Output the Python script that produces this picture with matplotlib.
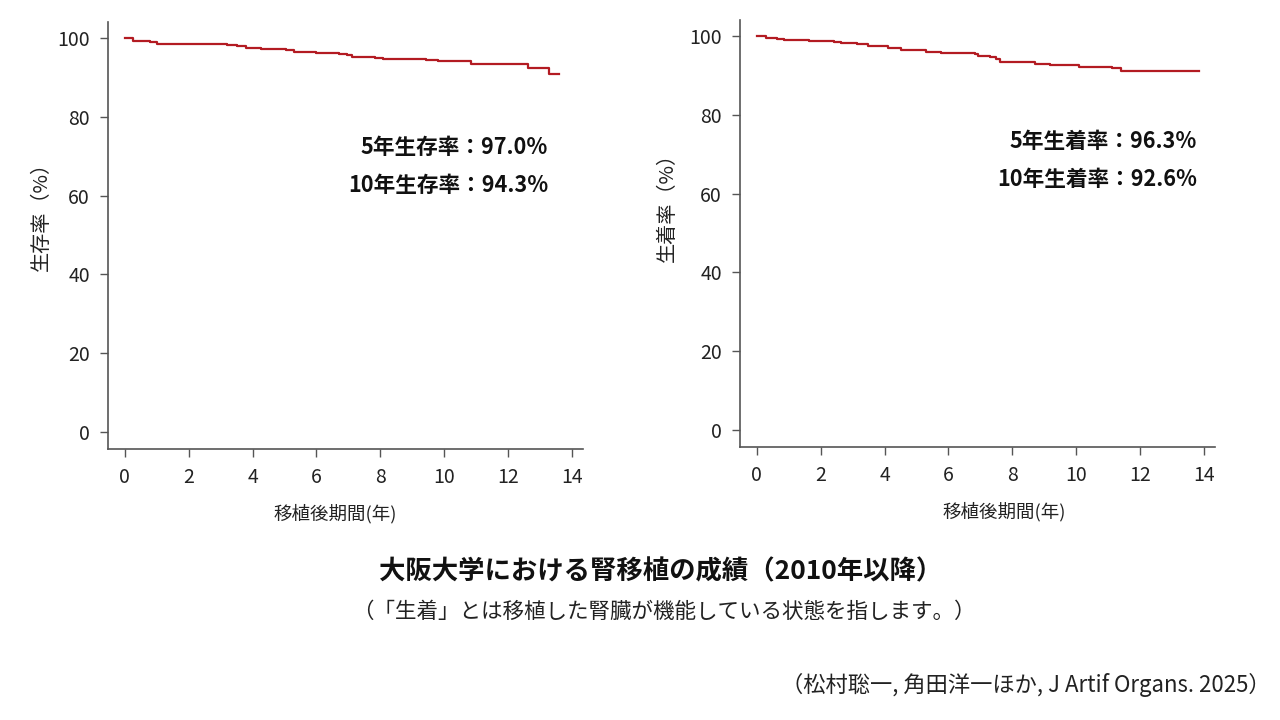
import matplotlib.pyplot as plt

plt.rcParams['font.family'] = ['Noto Sans CJK JP', 'DejaVu Sans']

# 生存率 (左)
t_os = [0, 0.25, 0.8, 1.0, 2.5, 3.2, 3.5, 3.8, 4.27, 5.05, 5.3, 6.0, 6.7, 6.95,
        7.1, 7.84, 8.1, 9.42, 9.8, 10.84, 12.64, 13.27, 13.59]
s_os = [100, 99.2, 98.9, 98.6, 98.5, 98.3, 98.1, 97.6, 97.2, 97.0, 96.4, 96.3, 96.1, 95.8,
        95.2, 95.0, 94.8, 94.5, 94.2, 93.4, 92.5, 90.9, 90.9]

# 生着率 (右)
t_gs = [0, 0.27, 0.64, 0.85, 1.64, 2.42, 2.63, 3.15, 3.47, 4.1, 4.52, 5.3, 5.78, 6.82,
        6.93, 7.3, 7.5, 7.6, 8.7, 9.18, 10.1, 11.12, 11.4, 13.85]
s_gs = [100, 99.6, 99.2, 99.0, 98.8, 98.6, 98.2, 97.9, 97.5, 97.0, 96.5, 96.1, 95.8, 95.4,
        94.9, 94.7, 94.1, 93.4, 93.0, 92.7, 92.2, 91.8, 91.2, 91.2]

xticks = [0, 2, 4, 6, 8, 10, 12, 14]
yticks = [0, 20, 40, 60, 80, 100]

ylabels = ['生存率（%）', '生着率（%）']
notes = [['5年生存率：97.0%', '10年生存率：94.3%'],
         ['5年生着率：96.3%', '10年生着率：92.6%']]

red = '#b31b22'
axcol = '#555555'

fig = plt.figure(figsize=(12.8, 7.2), dpi=100)
ax1 = fig.add_axes([108/1280, 1-449/720, 475/1280, 427/720])
ax2 = fig.add_axes([740/1280, 1-447/720, 475/1280, 427/720])


def dibujar(ax, t, s, ylab, txt, ylab_x, ylab_y, xlab_x, xr, y5, y10):
    ax.step(t, s, where='post', color=red, lw=1.6)
    ax.set_xlim(-0.53, 14.35)
    ax.set_ylim(-4.3, 104.1)
    ax.set_xticks(xticks)
    ax.set_yticks(yticks)
    for sp in ['top', 'right']:
        ax.spines[sp].set_visible(False)
    for sp in ['left', 'bottom']:
        ax.spines[sp].set_color(axcol)
        ax.spines[sp].set_linewidth(1.2)
    ax.tick_params(colors=axcol, length=6, width=1, labelsize=14,
                   labelcolor='#222222', pad=7)
    ax.set_xlabel('移植後期間(年)', fontsize=13.3, color='#222222')
    ax.xaxis.set_label_coords(xlab_x, -0.128)
    fig.text(ylab_x, 1-ylab_y/720, ylab, rotation=90, ha='center', va='center',
             fontsize=14.5, color='#222222')
    # 注記 (ピクセル位置 -> 図座標)
    fig.text(xr/1280, 1-y5/720, txt[0], ha='right', va='center',
             fontsize=15.6, fontweight='bold', color='#111111')
    fig.text(xr/1280, 1-y10/720, txt[1], ha='right', va='center',
             fontsize=15.6, fontweight='bold', color='#111111')


dibujar(ax1, t_os, s_os, ylabels[0], notes[0], 41/1280, 211, 0.478, 548, 147, 186)
dibujar(ax2, t_gs, s_gs, ylabels[1], notes[1], 667/1280, 202, 0.556, 1197, 141, 180)

fig.text(661/1280, 1-572/720, '大阪大学における腎移植の成績（2010年以降）',
         ha='center', va='center', fontsize=19, fontweight='bold', color='#111111')
fig.text(664/1280, 1-612/720, '（「生着」とは移植した腎臓が機能している状態を指します。）',
         ha='center', va='center', fontsize=15.5, color='#222222')
fig.text(1271/1280, 1-685/720, '（松村聡一, 角田洋一ほか, J Artif Organs. 2025）',
         ha='right', va='center', fontsize=16, color='#222222')

fig.savefig('out.png', dpi=100)
